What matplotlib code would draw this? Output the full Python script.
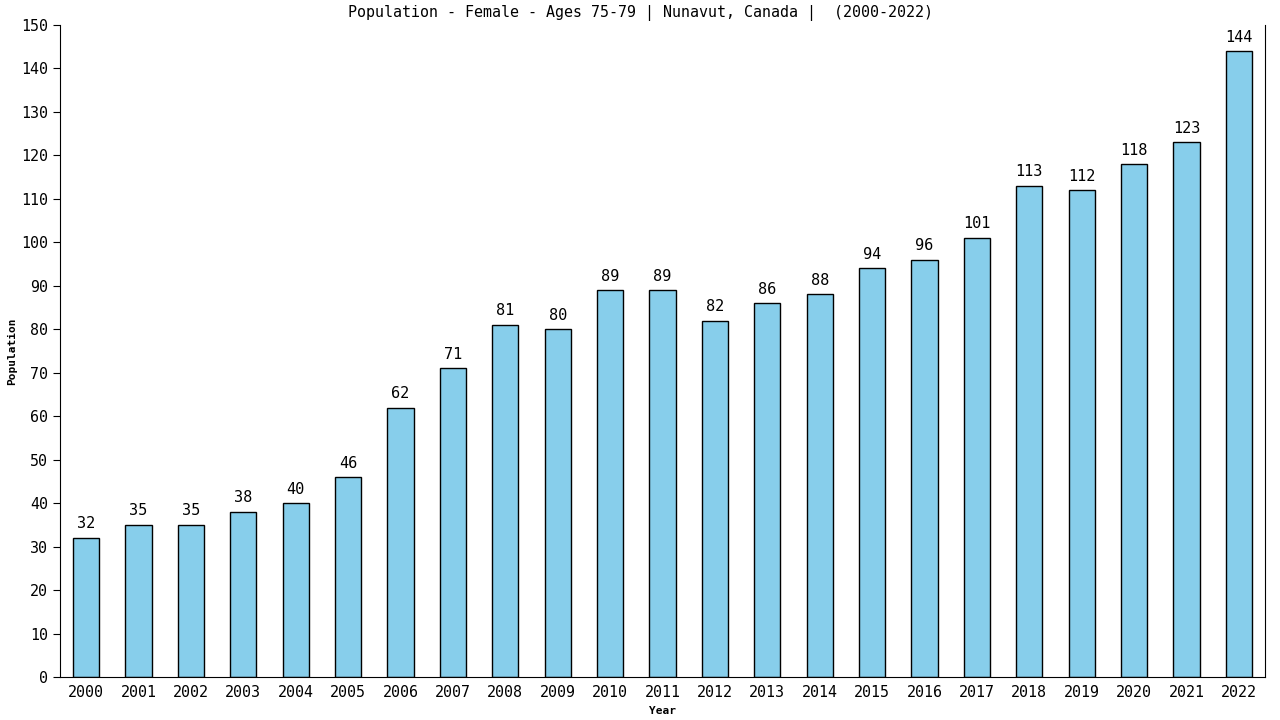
import matplotlib.pyplot as plt

years = [str(y) for y in range(2000, 2023)]
population = [32, 35, 35, 38, 40, 46, 62, 71, 81, 80, 89, 89, 82, 86, 88,
              94, 96, 101, 113, 112, 118, 123, 144]

plt.rcParams['font.family'] = ['DejaVu Sans Mono']

fig = plt.figure(figsize=(12.8, 7.2), dpi=100)
ax = fig.add_axes([60 / 1280, 1 - 677 / 720, 1205 / 1280, 652 / 720])

x = range(len(years))
bars = ax.bar(x, population, width=0.5, color='#87ceeb', edgecolor='black', linewidth=1)
for xi, v in zip(x, population):
    ax.text(xi, v + 1.5, str(v), ha='center', va='bottom', fontsize=11)

ax.set_xlim(-0.5, len(years) - 0.5)
ax.set_ylim(0, 150)
ax.set_yticks(range(0, 151, 10))
ax.set_xticks(list(x))
ax.set_xticklabels(years)
ax.tick_params(axis='x', length=0, pad=6, labelsize=10.8)
ax.tick_params(axis='y', length=5, labelsize=10.8)
ax.spines['top'].set_visible(False)

# title is centred on the whole figure, not the axes
fig.text(0.5, 1 - 13 / 720, 'Population - Female - Ages 75-79 | Nunavut, Canada |  (2000-2022)',
         ha='center', va='center', fontsize=10.8)
ax.set_xlabel('Year', fontsize=8, fontweight='bold', labelpad=4)
ax.set_ylabel('Population', fontsize=8, fontweight='bold', labelpad=3)

fig.savefig('out.png')
